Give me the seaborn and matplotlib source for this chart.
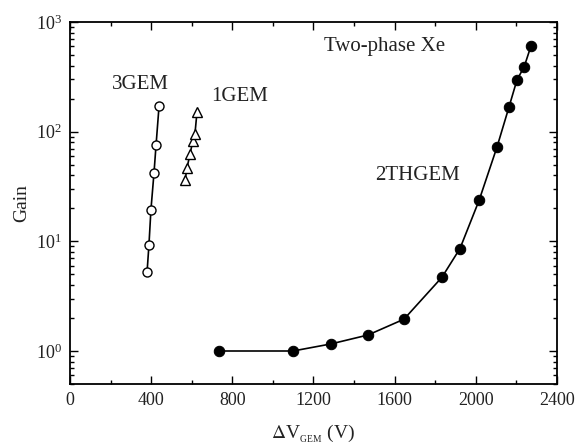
import matplotlib
matplotlib.use("Agg")
import matplotlib.pyplot as plt
import matplotlib.ticker as mticker
import seaborn as sns

sns.set_style("ticks")
plt.rcParams['font.family'] = ['Liberation Serif', 'DejaVu Serif']
plt.rcParams['mathtext.fontset'] = 'stix'

# 3GEM (open circles)
gem3_v = [380, 389, 399, 414, 424, 439]
gem3_gain = [5.3, 9.2, 19.5, 42, 75, 172]
# 1GEM (open triangles)
gem1_v = [567, 577, 591, 606, 616, 626]
gem1_gain = [36, 47, 62, 83, 96, 152]
# 2THGEM (filled circles)
thgem_v = [734, 1099, 1286, 1469, 1646, 1833, 1922, 2016, 2105, 2164, 2203, 2238, 2272]
thgem_gain = [1.0, 1.0, 1.16, 1.4, 1.95, 4.7, 8.6, 23.6, 73, 169, 297, 389, 605]

fig = plt.figure(figsize=(5.77, 4.44), dpi=100)
ax = fig.add_axes([0.1213, 0.1351, 0.844, 0.8154])

sns.lineplot(x=gem3_v, y=gem3_gain, ax=ax, color='black', lw=1.2, marker='o',
             markersize=6.5, markerfacecolor='white', markeredgecolor='black',
             markeredgewidth=1.0, sort=False)
sns.lineplot(x=gem1_v, y=gem1_gain, ax=ax, color='black', lw=1.2, marker='^',
             markersize=7, markerfacecolor='white', markeredgecolor='black',
             markeredgewidth=1.0, sort=False)
sns.lineplot(x=thgem_v, y=thgem_gain, ax=ax, color='black', lw=1.2, marker='o',
             markersize=7.5, markerfacecolor='black', markeredgecolor='black',
             sort=False)

ax.set_yscale('log')
ax.set_xlim(0, 2400)
ax.set_ylim(0.5, 1000)
ax.xaxis.set_major_locator(mticker.MultipleLocator(400))
ax.xaxis.set_minor_locator(mticker.MultipleLocator(200))
ax.yaxis.set_major_locator(mticker.LogLocator(base=10, numticks=10))
ax.yaxis.set_minor_locator(mticker.LogLocator(base=10, subs=range(2, 10), numticks=10))
ax.yaxis.set_minor_formatter(mticker.NullFormatter())

ax.tick_params(which='both', direction='in', top=True, right=True, labelsize=13,
               color='black', width=1.0, labelcolor='#222222')
ax.tick_params(which='major', length=6, pad=6)
ax.tick_params(which='minor', length=3)
for s in ax.spines.values():
    s.set_linewidth(1.3)
    s.set_color('black')

ax.set_xlabel(r'$\Delta$V$_{\mathregular{_{GEM}}}$ (V)', fontsize=14, labelpad=10,
              color='#222222')
ax.set_ylabel('Gain', fontsize=14, labelpad=4, color='#222222')

ax.text(345, 267, '3GEM', fontsize=15, ha='center', va='center', color='#222222')
ax.text(838, 208, '1GEM', fontsize=15, ha='center', va='center', color='#222222')
ax.text(1552, 592, 'Two-phase Xe', fontsize=15, ha='center', va='center', color='#222222')
ax.text(1715, 40, '2THGEM', fontsize=15, ha='center', va='center', color='#222222')

fig.savefig('out.png', dpi=100)
